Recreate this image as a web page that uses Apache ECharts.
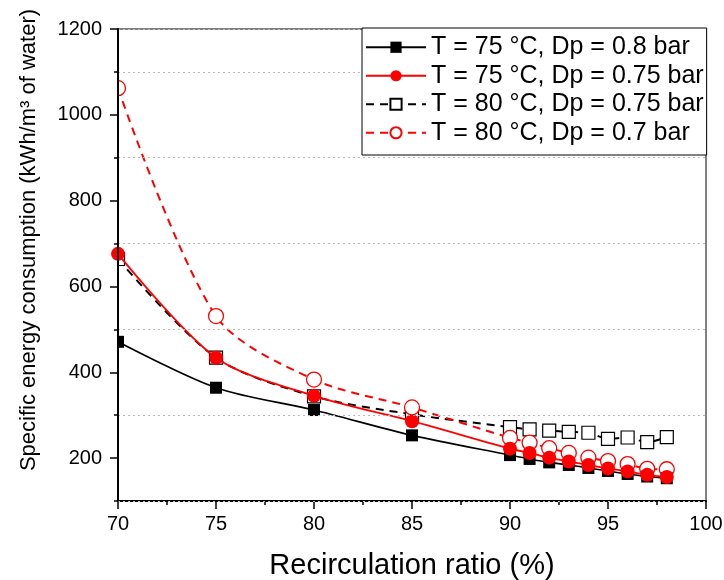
<!DOCTYPE html>
<html><head><meta charset="utf-8">
<script src="https://cdn.jsdelivr.net/npm/echarts@6/dist/echarts.min.js"></script>
<style>html,body{margin:0;padding:0;background:#fff}#c{width:724px;height:580px}</style>
</head><body><div id="c"></div>
<script>
var xValues = [70, 75, 80, 85, 90, 91, 92, 93, 94, 95, 96, 97, 98];
var s75_08 = [471, 364, 312, 253, 207, 198, 190, 184, 177, 170, 163, 157, 153];
var s75_075 = [676, 434, 345, 286, 222, 212, 201, 192, 184, 176, 169, 161, 156];
var s80_075 = [664, 434, 344, 302, 272, 267, 264, 261, 259, 245, 248, 237, 249];
var s80_07 = [1062, 531, 383, 318, 247, 236, 223, 212, 201, 193, 186, 175, 174];
var seriesNames = ['T = 75 °C, Dp = 0.8 bar', 'T = 75 °C, Dp = 0.75 bar', 'T = 80 °C, Dp = 0.75 bar', 'T = 80 °C, Dp = 0.7 bar'];
var yLabelTicks = [200, 400, 600, 800, 1000, 1200];
var xTicks = [70, 75, 80, 85, 90, 95, 100];

function pairs(ys){ return xValues.map(function(x,i){ return [x, ys[i]]; }); }
var FONT = '"Liberation Sans", Arial, sans-serif';
var chart = echarts.init(document.getElementById('c'));
var gridL = 118, gridR = 18, gridT = 29, gridB = 79;
chart.setOption({
  animation: false,
  textStyle: { fontFamily: FONT },
  grid: { left: gridL, right: gridR, top: gridT, bottom: gridB, show: true, borderColor: '#000', borderWidth: 1, backgroundColor: 'transparent', containLabel: false, outerBoundsMode: 'none' },
  legend: {
    left: 362, top: 28, orient: 'vertical', z: 20,
    backgroundColor: '#fff', borderColor: '#000', borderWidth: 1,
    padding: [5, 3, 8, 3], itemGap: 0, itemWidth: 60, itemHeight: 14,
    textStyle: { fontSize: 25, lineHeight: 28.5, color: '#000', fontFamily: FONT },
    data: seriesNames
  },
  xAxis: {
    type: 'value', min: 70, max: 100, interval: 5,
    name: 'Recirculation ratio (%)', nameLocation: 'middle', nameGap: 50,
    nameTextStyle: { fontSize: 29, color: '#000', fontFamily: FONT },
    axisLine: { onZero: false, lineStyle: { color: '#000', width: 2 } },
    axisTick: { show: true, inside: false, length: 8, lineStyle: { color: '#000', width: 1.5 } },
    minorTick: { show: true, splitNumber: 2, length: 4, lineStyle: { color: '#000', width: 1.5 } },
    axisLabel: { fontSize: 20, color: '#000', margin: 13, fontFamily: FONT, customValues: xTicks, formatter: function(v){ return String(v); } },
    splitLine: { show: false }
  },
  yAxis: [{
    type: 'value', min: 100, max: 1200, interval: 200, position: 'left', z: 10,
    name: 'Specific energy consumption (kWh/m³ of water)', nameLocation: 'middle', nameGap: 78,
    nameTextStyle: { fontSize: 22, color: '#000', fontFamily: FONT, padding: [0, 0, 0, 50] },
    axisLine: { onZero: false, lineStyle: { color: '#000', width: 2 } },
    axisTick: { show: true, inside: false, length: 4, lineStyle: { color: '#000', width: 1.5 } },
    axisLabel: { show: false },
    splitLine: { show: true, lineStyle: { color: '#bbb', type: [2, 3], width: 1 } }
  }, {
    type: 'value', min: 100, max: 1200, interval: 100, position: 'left', offset: 0, z: 10,
    axisLine: { show: false },
    axisTick: { show: true, inside: false, length: 8, customValues: yLabelTicks, lineStyle: { color: '#000', width: 1.5 } },
    axisLabel: { fontSize: 20, color: '#000', margin: 16, fontFamily: FONT, customValues: yLabelTicks, formatter: function(v){ return String(v); } },
    splitLine: { show: false }
  }],
  graphic: [{ type: 'rect', z: 5, shape: { x: 0, y: gridT - 12, width: gridL - 1, height: 580 - gridB - gridT + 12 }, style: { fill: '#fff' }, silent: true }],
  series: [{
    name: seriesNames[0], type: 'line', data: pairs(s75_08), smooth: 0.3, z: 4,
    symbol: 'rect', symbolSize: 12,
    itemStyle: { color: '#000', borderColor: '#000', borderWidth: 0 },
    lineStyle: { color: '#000', width: 1.6, type: 'solid' }
  }, {
    name: seriesNames[1], type: 'line', data: pairs(s75_075), smooth: 0.3, z: 5,
    symbol: 'circle', symbolSize: 14,
    itemStyle: { color: '#ff0000', borderColor: '#ff0000', borderWidth: 0 },
    lineStyle: { color: '#ff0000', width: 1.8, type: 'solid' }
  }, {
    name: seriesNames[2], type: 'line', data: pairs(s80_075), smooth: 0.3, z: 2,
    symbol: 'rect', symbolSize: 13,
    itemStyle: { color: '#fff', borderColor: '#000', borderWidth: 1.2 },
    lineStyle: { color: '#000', width: 2, type: [8, 6] }
  }, {
    name: seriesNames[3], type: 'line', data: pairs(s80_07), smooth: 0.3, z: 3,
    symbol: 'circle', symbolSize: 15,
    itemStyle: { color: '#fff', borderColor: '#ff0000', borderWidth: 1.3 },
    lineStyle: { color: '#ff0000', width: 2, type: [8, 6] }
  }]
});
</script></body></html>
